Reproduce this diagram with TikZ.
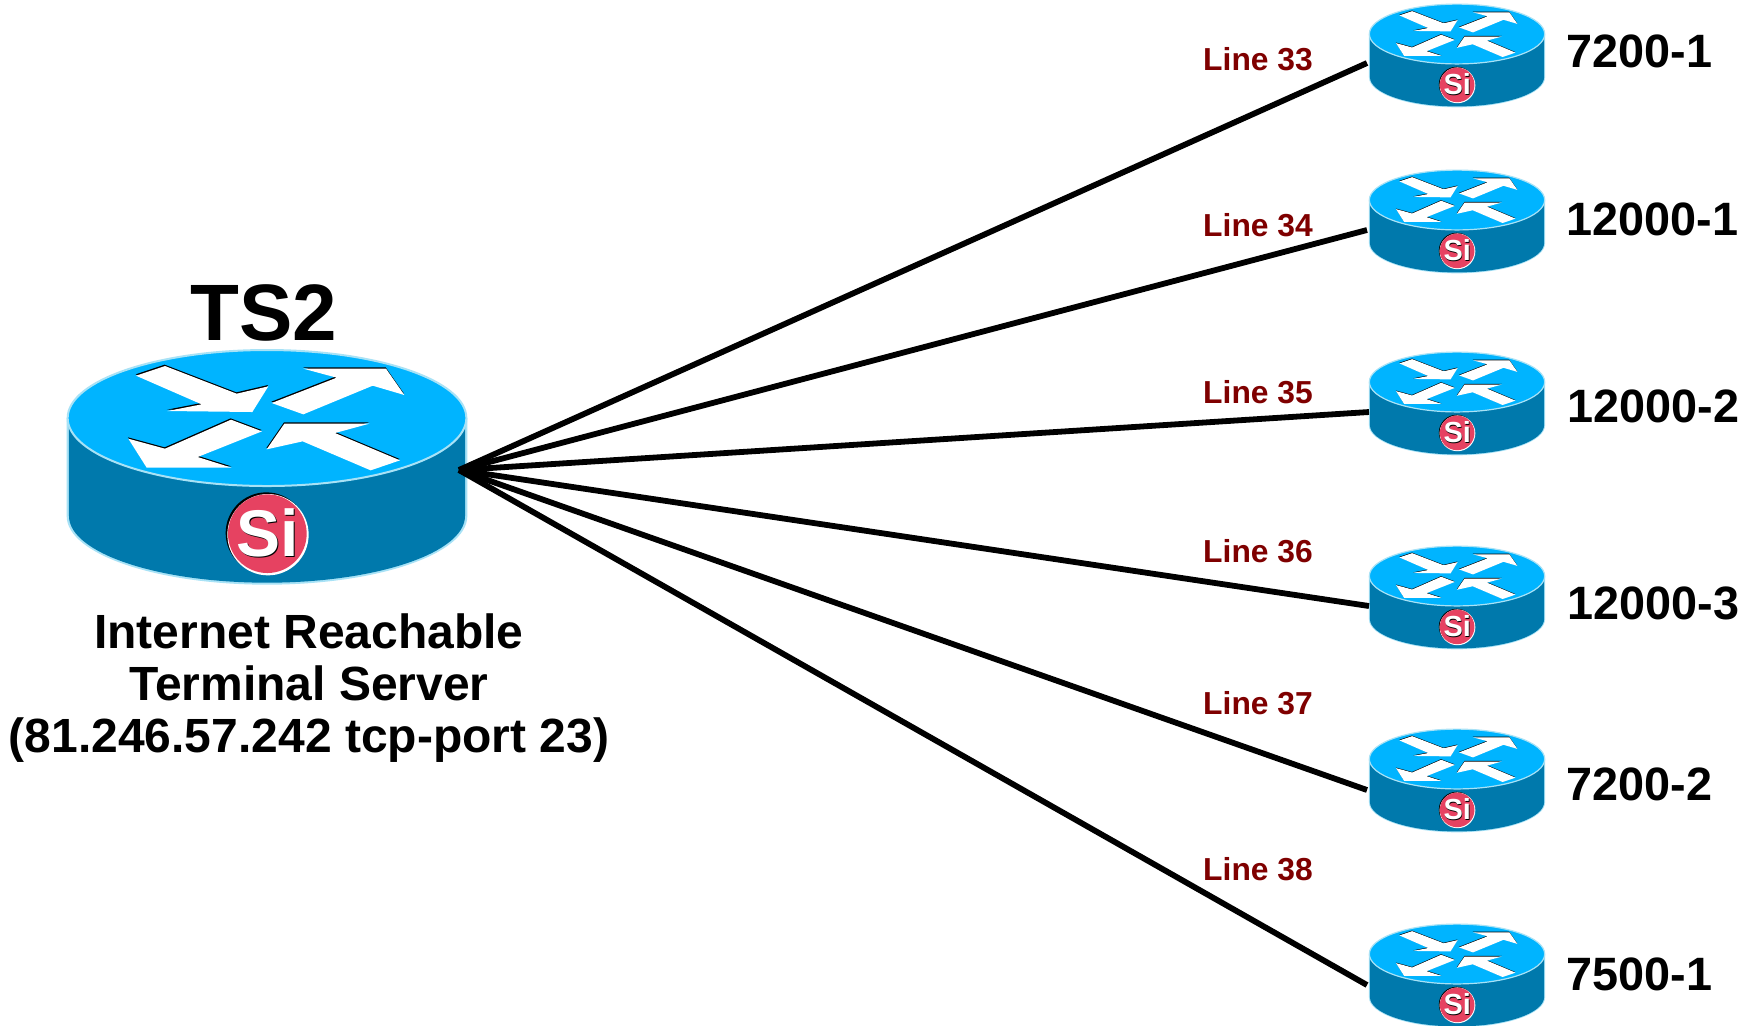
\documentclass[tikz,border=0pt]{standalone}
\usepackage{fontspec}
\setmainfont{Liberation Sans}
\definecolor{rtop}{HTML}{00B4FF}
\definecolor{rbody}{HTML}{0079AC}
\definecolor{redge}{HTML}{A8E2F6}
\definecolor{rsi}{HTML}{E64261}
\definecolor{linered}{HTML}{7F0000}
\tikzset{
  link/.style={line width=2.9pt,black},
  linelabel/.style={font=\bfseries\fontsize{15.9}{18}\selectfont,text=linered,anchor=base,inner sep=0pt},
  routerlabel/.style={font=\bfseries\fontsize{23.4}{26}\selectfont,anchor=base west,inner sep=0pt},
  serverlabel/.style={font=\bfseries\fontsize{24}{26}\selectfont,anchor=base,inner sep=0pt},
  pics/router/.style n args={2}{code={
    % body
    \fill[redge] (-601,0) -- (-601,294) arc[x radius=601,y radius=206,start angle=180,end angle=0] -- (601,0) -- cycle;
    \fill[rbody] (-594,0) -- (-594,294) arc[x radius=594,y radius=200,start angle=180,end angle=0] -- (594,0) -- cycle;
    % top
    \fill[rtop,draw=redge,line width=#2] (0,0) ellipse[x radius=598,y radius=204];
    % arrows
    \foreach \dx/\dy/\col in {-1/-4/black,0/0/white}{
      \begin{scope}[shift={(\dx,\dy)}]
      \fill[\col] (-393,-127) -- (-306,-156) -- (-91,-73) -- (4,-95) -- (-44,-18) -- (-299,-21) -- (-196,-41) -- cycle;
      \fill[\col] (14,-45) -- (209,-121) -- (109,-148) -- (357,-148) -- (412,-69) -- (317,-97) -- (109,-11) -- cycle;
      \fill[\col] (-306,92) -- (-108,5) -- (-15,40) -- (-208,117) -- (-106,149) -- (-361,149) -- (-416,62) -- cycle;
      \fill[\col] (-1,94) -- (52,17) -- (307,17) -- (204,45) -- (399,127) -- (311,157) -- (107,70) -- cycle;
      \end{scope}
    }
    % Si badge
    \fill[black] (-2,345) circle[radius=122];
    \fill[white] (3,350) circle[radius=122];
    \fill[rsi] (1,347) circle[radius=118];
    \node[inner sep=0pt,text=black,font=\bfseries\fontsize{#1}{#1}\selectfont] at (6,349) {Si};
    \node[inner sep=0pt,text=white,font=\bfseries\fontsize{#1}{#1}\selectfont] at (2,344) {Si};
  }}
}
\begin{document}
\begin{tikzpicture}[x=0.5pt,y=-0.5pt]
\useasboundingbox (0,0) rectangle (1760,1025);
\fill[white] (0,0) rectangle (1760,1025);
% routers
\begin{scope}[shift={(267,418)},x=0.16667pt,y=-0.16667pt]
  \pic {router={33}{1.0pt}};
\end{scope}
\foreach \yy in {34,200,382,576,759,954}{
  \begin{scope}[shift={(1457,\yy)},x=0.0733pt,y=-0.0733pt]
    \pic {router={14.5}{0.6pt}};
  \end{scope}
}
% ports
\coordinate (ts) at (459,470);
\coordinate (p1) at (1367,63);
\coordinate (p2) at (1367,230);
\coordinate (p3) at (1369,412);
\coordinate (p4) at (1369,606);
\coordinate (p5) at (1367,790);
\coordinate (p6) at (1367,985);
\foreach \p in {p1,p2,p3,p4,p5,p6}{\draw[link] (ts) -- (\p);}
% labels
\node[inner sep=0pt,anchor=base,font=\bfseries\fontsize{40}{44}\selectfont] (tsname) at (264,340) {TS2};
\node[serverlabel] (s1) at (309,648) {Internet Reachable};
\node[serverlabel] (s2) at (309,700) {Terminal Server};
\node[serverlabel] (s3) at (309,752) {(81.246.57.242 tcp-port 23)};
\node[linelabel] (l1) at (1258,70) {Line 33};
\node[linelabel] (l2) at (1258,236) {Line 34};
\node[linelabel] (l3) at (1258,403) {Line 35};
\node[linelabel] (l4) at (1258,562) {Line 36};
\node[linelabel] (l5) at (1258,714) {Line 37};
\node[linelabel] (l6) at (1258,880) {Line 38};
\node[routerlabel] (r1) at (1566,67) {7200-1};
\node[routerlabel] (r2) at (1566,235) {12000-1};
\node[routerlabel] (r3) at (1567,422) {12000-2};
\node[routerlabel] (r4) at (1567,619) {12000-3};
\node[routerlabel] (r5) at (1566,800) {7200-2};
\node[routerlabel] (r6) at (1566,990) {7500-1};
\end{tikzpicture}
\end{document}
